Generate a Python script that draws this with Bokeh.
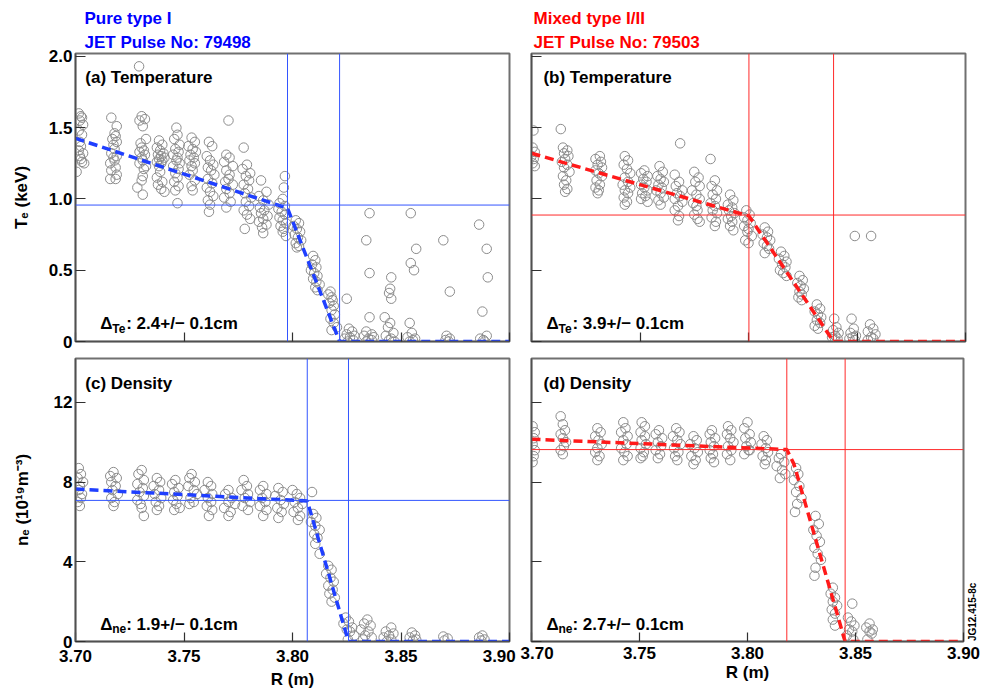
import math

from bokeh.embed import file_html
from bokeh.layouts import column, row
from bokeh.models import (CustomLabelingPolicy, FixedTicker, Label, LinearAxis,
                          Range1d, Span, Title)
from bokeh.plotting import figure
from bokeh.resources import INLINE

FONT = "Liberation Sans"
GRAY = "#8c8c8c"
BLUE_TXT = "#0000ff"
RED_TXT = "#ff0000"
BLUE_LINE = "#3355ff"
RED_LINE = "#ff2a2a"
BLUE_FIT = "#1f3fff"
RED_FIT = "#ff1a1a"

# ---------------------------------------------------------------- axes
R_RANGE = (3.70, 3.90)
R_TICKS = [3.70, 3.75, 3.80, 3.85, 3.90]
R_TICK_TEXT = ["3.70", "3.75", "3.80", "3.85", "3.90"]
TE_RANGE = (0.0, 2.02)
TE_TICKS = [0.0, 0.5, 1.0, 1.5, 2.0]
TE_TICK_TEXT = ["0", "0.5", "1.0", "1.5", "2.0"]
NE_RANGE = (0.0, 14.2)
NE_TICKS = [0, 4, 8, 12]
NE_TICK_TEXT = ["0", "4", "8", "12"]

# ---------------------------------------------------------------- pedestal fits
# pedestal position R (m), width (cm), pedestal height
PED_POS = {"a": 3.7977, "b": 3.8002, "c": 3.8068, "d": 3.8182}
PED_WIDTH_CM = {"a": 2.4, "b": 3.9, "c": 1.9, "d": 2.7}
PED_HEIGHT = {"a": 0.957, "b": 0.887, "c": 7.08, "d": 9.63}

FIT_A_R = [3.700, 3.7977, 3.8217, 3.900]
FIT_A_V = [1.425, 0.935, 0.0, 0.0]
FIT_B_R = [3.700, 3.8002, 3.8392, 3.900]
FIT_B_V = [1.32, 0.88, 0.0, 0.0]
FIT_C_R = [3.700, 3.8068, 3.8258, 3.900]
FIT_C_V = [7.65, 7.05, 0.0, 0.0]
FIT_D_R = [3.700, 3.8182, 3.8215, 3.8452, 3.900]
FIT_D_V = [10.15, 9.63, 8.9, 0.0, 0.0]

# ---------------------------------------------------------------- measured profiles (R [m], value)
TE_PURE = [
    (3.7015, 1.60), (3.7025, 1.58), (3.7030, 1.57), (3.7020, 1.55), (3.7035, 1.52), (3.7015, 1.48),
    (3.7030, 1.45), (3.7020, 1.40), (3.7025, 1.37), (3.7015, 1.34), (3.7035, 1.32), (3.7020, 1.30),
    (3.7025, 1.28), (3.7030, 1.26), (3.7040, 1.25), (3.7005, 1.19),
    (3.7165, 1.57), (3.7190, 1.51), (3.7180, 1.46), (3.7185, 1.44), (3.7170, 1.42), (3.7190, 1.40),
    (3.7175, 1.38), (3.7180, 1.35), (3.7165, 1.32), (3.7190, 1.30), (3.7175, 1.29), (3.7180, 1.27),
    (3.7160, 1.25), (3.7185, 1.22), (3.7165, 1.20), (3.7190, 1.17), (3.7160, 1.14), (3.7185, 1.14),
    (3.7293, 1.93), (3.7305, 1.58), (3.7320, 1.56), (3.7295, 1.55), (3.7310, 1.51), (3.7325, 1.42),
    (3.7300, 1.39), (3.7305, 1.36), (3.7315, 1.34), (3.7295, 1.33), (3.7320, 1.31), (3.7305, 1.29),
    (3.7310, 1.27), (3.7295, 1.25), (3.7325, 1.23), (3.7315, 1.21), (3.7310, 1.16), (3.7305, 1.13),
    (3.7285, 1.08), (3.7310, 1.03),
    (3.7385, 1.41), (3.7400, 1.38), (3.7375, 1.36), (3.7390, 1.34), (3.7405, 1.32), (3.7380, 1.31),
    (3.7395, 1.30), (3.7410, 1.29), (3.7385, 1.28), (3.7400, 1.27), (3.7375, 1.26), (3.7395, 1.25),
    (3.7385, 1.23), (3.7390, 1.19), (3.7375, 1.15), (3.7400, 1.12), (3.7380, 1.10), (3.7395, 1.07),
    (3.7410, 1.05),
    (3.7465, 1.50), (3.7470, 1.45), (3.7455, 1.42), (3.7480, 1.38), (3.7460, 1.35), (3.7475, 1.33),
    (3.7450, 1.31), (3.7470, 1.29), (3.7465, 1.27), (3.7480, 1.25), (3.7450, 1.23), (3.7475, 1.21),
    (3.7460, 1.18), (3.7470, 1.15), (3.7455, 1.12), (3.7475, 1.09), (3.7460, 1.06), (3.7470, 0.97),
    (3.7535, 1.43), (3.7550, 1.40), (3.7520, 1.37), (3.7540, 1.35), (3.7555, 1.33), (3.7530, 1.31),
    (3.7545, 1.29), (3.7525, 1.27), (3.7550, 1.25), (3.7535, 1.23), (3.7540, 1.20), (3.7525, 1.17),
    (3.7550, 1.13), (3.7535, 1.09), (3.7540, 1.06),
    (3.7615, 1.40), (3.7630, 1.37), (3.7605, 1.30), (3.7620, 1.27), (3.7635, 1.24), (3.7610, 1.22),
    (3.7625, 1.20), (3.7640, 1.17), (3.7610, 1.14), (3.7630, 1.11), (3.7605, 1.08), (3.7620, 1.05),
    (3.7635, 1.02), (3.7610, 0.99), (3.7620, 0.96), (3.7615, 0.91),
    (3.7705, 1.55), (3.7695, 1.31), (3.7710, 1.29), (3.7685, 1.26), (3.7725, 1.23), (3.7695, 1.20),
    (3.7710, 1.17), (3.7705, 1.14), (3.7690, 1.12), (3.7725, 1.10), (3.7695, 1.07), (3.7710, 1.04),
    (3.7685, 1.01), (3.7715, 0.98), (3.7695, 0.94),
    (3.7775, 1.36), (3.7790, 1.24), (3.7770, 1.21), (3.7805, 1.18), (3.7785, 1.16), (3.7800, 1.13),
    (3.7775, 1.10), (3.7795, 1.07), (3.7780, 1.04), (3.7810, 1.01), (3.7785, 0.98), (3.7800, 0.95),
    (3.7775, 0.92), (3.7790, 0.89), (3.7805, 0.86), (3.7780, 0.79),
    (3.7855, 1.13), (3.7880, 1.05), (3.7845, 1.02), (3.7865, 0.99), (3.7890, 0.96), (3.7850, 0.94),
    (3.7870, 0.92), (3.7855, 0.90), (3.7885, 0.88), (3.7865, 0.86), (3.7845, 0.84), (3.7880, 0.82),
    (3.7860, 0.80), (3.7865, 0.76),
    (3.7965, 1.16), (3.7960, 1.08), (3.7955, 1.00), (3.7940, 0.97), (3.7965, 0.95), (3.7935, 0.93),
    (3.7950, 0.91), (3.7965, 0.89), (3.7940, 0.87), (3.7955, 0.85), (3.7970, 0.83), (3.7945, 0.81),
    (3.7960, 0.79), (3.7955, 0.77), (3.7970, 0.74),
    (3.8015, 0.85), (3.8030, 0.83), (3.8005, 0.81), (3.8020, 0.79), (3.8035, 0.77), (3.8010, 0.75),
    (3.8025, 0.73), (3.8040, 0.71), (3.8015, 0.69), (3.8030, 0.67), (3.8020, 0.66),
    (3.8095, 0.60), (3.8105, 0.57), (3.8090, 0.54), (3.8110, 0.52), (3.8085, 0.50), (3.8100, 0.48),
    (3.8115, 0.46), (3.8095, 0.44), (3.8110, 0.42), (3.8125, 0.40), (3.8105, 0.38), (3.8115, 0.36),
    (3.8175, 0.35), (3.8165, 0.33), (3.8180, 0.31), (3.8185, 0.29), (3.8170, 0.27), (3.8190, 0.25),
    (3.8180, 0.22), (3.8195, 0.19), (3.8175, 0.16), (3.8190, 0.13), (3.8205, 0.10), (3.8180, 0.08),
    (3.8250, 0.30), (3.8260, 0.09), (3.8275, 0.07), (3.8250, 0.05), (3.8285, 0.04), (3.8265, 0.03),
    (3.8240, 0.02), (3.8280, 0.01), (3.8255, 0.00),
    (3.8355, 0.90), (3.8340, 0.71), (3.8355, 0.48), (3.8355, 0.17), (3.8340, 0.07), (3.8365, 0.05),
    (3.8330, 0.04), (3.8375, 0.03), (3.8350, 0.02), (3.8365, 0.01), (3.8340, 0.00),
    (3.8455, 0.45), (3.8450, 0.37), (3.8445, 0.34), (3.8455, 0.30), (3.8425, 0.17), (3.8450, 0.13),
    (3.8440, 0.10), (3.8465, 0.06), (3.8430, 0.04), (3.8455, 0.02), (3.8445, 0.01), (3.8470, 0.00),
    (3.8545, 0.90), (3.8570, 0.65), (3.8545, 0.55), (3.8560, 0.50), (3.8540, 0.13), (3.8550, 0.06),
    (3.8530, 0.03), (3.8565, 0.02), (3.8555, 0.01), (3.8540, 0.00),
    (3.8695, 0.71), (3.8725, 0.35), (3.8710, 0.04), (3.8725, 0.02), (3.8705, 0.01), (3.8720, 0.00),
    (3.8860, 0.82), (3.8895, 0.65), (3.8900, 0.45), (3.8875, 0.21), (3.8895, 0.04), (3.8865, 0.02),
    (3.8880, 0.01), (3.8885, 0.00),
]

TE_MIXED = [
    (3.7009, 1.48), (3.7005, 1.36), (3.7015, 1.33), (3.7000, 1.30), (3.7010, 1.28), (3.7005, 1.25),
    (3.7015, 1.23),
    (3.7135, 1.49), (3.7145, 1.36), (3.7165, 1.34), (3.7150, 1.32), (3.7170, 1.30), (3.7155, 1.28),
    (3.7140, 1.26), (3.7165, 1.24), (3.7150, 1.22), (3.7175, 1.19), (3.7145, 1.16), (3.7160, 1.13),
    (3.7150, 1.10), (3.7165, 1.07), (3.7155, 1.05),
    (3.7315, 1.30), (3.7295, 1.28), (3.7320, 1.26), (3.7305, 1.24), (3.7325, 1.22), (3.7295, 1.20),
    (3.7310, 1.18), (3.7325, 1.16), (3.7300, 1.13), (3.7315, 1.10), (3.7295, 1.08), (3.7310, 1.06),
    (3.7305, 1.04),
    (3.7430, 1.30), (3.7445, 1.27), (3.7425, 1.24), (3.7440, 1.21), (3.7455, 1.18), (3.7430, 1.15),
    (3.7445, 1.12), (3.7420, 1.10), (3.7455, 1.08), (3.7430, 1.06), (3.7445, 1.04), (3.7425, 1.01),
    (3.7440, 0.98), (3.7430, 0.96),
    (3.7520, 1.20), (3.7505, 1.18), (3.7535, 1.16), (3.7515, 1.14), (3.7530, 1.12), (3.7505, 1.10),
    (3.7520, 1.08), (3.7535, 1.06), (3.7510, 1.04), (3.7525, 1.02), (3.7505, 1.00), (3.7535, 0.98),
    (3.7590, 1.23), (3.7605, 1.19), (3.7580, 1.16), (3.7595, 1.14), (3.7610, 1.12), (3.7585, 1.10),
    (3.7600, 1.08), (3.7575, 1.06), (3.7595, 1.04), (3.7610, 1.01), (3.7585, 0.99), (3.7595, 0.96),
    (3.7685, 1.39), (3.7660, 1.17), (3.7680, 1.12), (3.7665, 1.09), (3.7695, 1.06), (3.7670, 1.04),
    (3.7685, 1.02), (3.7660, 1.00), (3.7695, 0.98), (3.7675, 0.95), (3.7660, 0.92), (3.7680, 0.88),
    (3.7675, 0.85),
    (3.7750, 1.19), (3.7770, 1.15), (3.7755, 1.12), (3.7775, 1.09), (3.7740, 1.06), (3.7760, 1.03),
    (3.7775, 1.00), (3.7745, 0.97), (3.7760, 0.95), (3.7765, 0.92), (3.7750, 0.89), (3.7765, 0.86),
    (3.7775, 0.84),
    (3.7825, 1.28), (3.7845, 1.13), (3.7830, 1.09), (3.7855, 1.06), (3.7835, 1.03), (3.7850, 1.00),
    (3.7825, 0.97), (3.7845, 0.95), (3.7835, 0.92), (3.7855, 0.90), (3.7830, 0.87), (3.7850, 0.84),
    (3.7845, 0.81),
    (3.7915, 1.03), (3.7930, 0.99), (3.7905, 0.96), (3.7925, 0.94), (3.7910, 0.92), (3.7935, 0.90),
    (3.7920, 0.88), (3.7905, 0.86), (3.7925, 0.84), (3.7915, 0.81), (3.7930, 0.78),
    (3.7990, 0.92), (3.8005, 0.89), (3.7980, 0.87), (3.7995, 0.85), (3.8010, 0.83), (3.7980, 0.81),
    (3.8000, 0.79), (3.7995, 0.77), (3.8015, 0.74), (3.7985, 0.71), (3.8000, 0.69),
    (3.8075, 0.80), (3.8090, 0.77), (3.8065, 0.75), (3.8085, 0.73), (3.8100, 0.71), (3.8070, 0.69),
    (3.8085, 0.67), (3.8095, 0.65), (3.8075, 0.62),
    (3.8150, 0.63), (3.8165, 0.60), (3.8140, 0.58), (3.8175, 0.56), (3.8155, 0.54), (3.8170, 0.52),
    (3.8145, 0.50), (3.8160, 0.48), (3.8175, 0.46),
    (3.8235, 0.46), (3.8250, 0.43), (3.8225, 0.41), (3.8240, 0.39), (3.8255, 0.37), (3.8235, 0.35),
    (3.8245, 0.33), (3.8230, 0.31), (3.8245, 0.29),
    (3.8315, 0.26), (3.8330, 0.23), (3.8305, 0.21), (3.8320, 0.19), (3.8335, 0.17), (3.8315, 0.15),
    (3.8330, 0.13), (3.8305, 0.11), (3.8320, 0.09),
    (3.8395, 0.16), (3.8405, 0.10), (3.8390, 0.08), (3.8415, 0.06), (3.8400, 0.04), (3.8385, 0.03),
    (3.8410, 0.02), (3.8400, 0.01),
    (3.8490, 0.74), (3.8475, 0.16), (3.8485, 0.09), (3.8470, 0.06), (3.8495, 0.04), (3.8480, 0.03),
    (3.8465, 0.02), (3.8490, 0.01),
    (3.8565, 0.74), (3.8560, 0.12), (3.8575, 0.09), (3.8550, 0.07), (3.8585, 0.05), (3.8565, 0.03),
    (3.8575, 0.02), (3.8550, 0.01),
]

NE_PURE = [
    (3.7015, 8.7), (3.7025, 8.4), (3.7010, 8.2), (3.7035, 8.0), (3.7020, 7.8), (3.7015, 7.6),
    (3.7030, 7.4), (3.7025, 7.2), (3.7010, 7.0), (3.7020, 6.8),
    (3.7175, 8.5), (3.7160, 8.3), (3.7190, 8.2), (3.7165, 8.0), (3.7185, 7.8), (3.7170, 7.6),
    (3.7195, 7.4), (3.7165, 7.2), (3.7180, 7.0), (3.7175, 6.8),
    (3.7305, 8.6), (3.7290, 8.4), (3.7315, 8.1), (3.7285, 7.9), (3.7310, 7.7), (3.7295, 7.5),
    (3.7315, 7.3), (3.7285, 7.1), (3.7300, 6.9), (3.7305, 6.7), (3.7315, 6.3),
    (3.7375, 8.2), (3.7390, 8.0), (3.7360, 7.8), (3.7385, 7.6), (3.7365, 7.4), (3.7395, 7.2),
    (3.7370, 7.0), (3.7385, 6.8), (3.7375, 6.6),
    (3.7460, 8.1), (3.7445, 7.9), (3.7475, 7.7), (3.7455, 7.5), (3.7470, 7.3), (3.7450, 7.1),
    (3.7465, 6.9), (3.7480, 6.7), (3.7455, 6.6),
    (3.7535, 8.4), (3.7525, 8.2), (3.7550, 8.0), (3.7520, 7.8), (3.7545, 7.6), (3.7560, 7.4),
    (3.7530, 7.2), (3.7545, 7.0), (3.7525, 6.9),
    (3.7610, 8.0), (3.7625, 7.8), (3.7595, 7.6), (3.7630, 7.4), (3.7610, 7.2), (3.7625, 7.0),
    (3.7605, 6.8), (3.7630, 6.6), (3.7615, 6.3),
    (3.7705, 7.6), (3.7690, 7.4), (3.7720, 7.2), (3.7705, 7.0), (3.7735, 6.9), (3.7685, 6.7),
    (3.7715, 6.5), (3.7705, 6.3),
    (3.7775, 8.1), (3.7790, 7.8), (3.7765, 7.6), (3.7795, 7.4), (3.7780, 7.2), (3.7805, 7.0),
    (3.7770, 6.8), (3.7795, 6.6),
    (3.7865, 7.8), (3.7850, 7.6), (3.7880, 7.4), (3.7860, 7.2), (3.7875, 7.0), (3.7850, 6.8),
    (3.7880, 6.6), (3.7865, 6.3),
    (3.7935, 7.7), (3.7955, 7.5), (3.7920, 7.3), (3.7945, 7.1), (3.7960, 6.9), (3.7930, 6.7),
    (3.7950, 6.5), (3.7935, 6.2),
    (3.8000, 7.6), (3.8020, 7.4), (3.8035, 7.2), (3.8010, 7.0), (3.8045, 6.9), (3.8025, 6.7),
    (3.8005, 6.5), (3.8035, 6.3), (3.8025, 6.1),
    (3.8090, 7.5), (3.8095, 6.4), (3.8110, 6.2), (3.8085, 6.0), (3.8105, 5.8), (3.8125, 5.6),
    (3.8100, 5.4), (3.8115, 5.2), (3.8105, 4.9), (3.8125, 4.4),
    (3.8165, 3.8), (3.8180, 3.6), (3.8155, 3.4), (3.8175, 3.2), (3.8190, 3.0), (3.8165, 2.8),
    (3.8185, 2.6), (3.8170, 2.4), (3.8195, 2.2), (3.8180, 2.0),
    (3.8245, 1.2), (3.8260, 1.0), (3.8235, 0.9), (3.8275, 0.7), (3.8250, 0.6), (3.8265, 0.5),
    (3.8285, 0.3), (3.8255, 0.1),
    (3.8345, 1.1), (3.8330, 0.9), (3.8360, 0.8), (3.8315, 0.6), (3.8350, 0.5), (3.8335, 0.3),
    (3.8365, 0.2), (3.8325, 0.1),
    (3.8455, 0.7), (3.8430, 0.5), (3.8465, 0.4), (3.8445, 0.3), (3.8420, 0.2), (3.8455, 0.1),
    (3.8435, 0.0),
    (3.8550, 0.45), (3.8565, 0.3), (3.8540, 0.2), (3.8570, 0.1), (3.8555, 0.05),
    (3.8695, 0.25), (3.8715, 0.15), (3.8700, 0.05),
    (3.8875, 0.3), (3.8860, 0.2), (3.8885, 0.1), (3.8870, 0.05),
]

NE_MIXED = [
    (3.7005, 10.8), (3.7015, 10.5), (3.7010, 10.2), (3.7005, 9.9), (3.7015, 9.6), (3.7010, 9.3),
    (3.7005, 9.0),
    (3.7135, 11.3), (3.7145, 10.9), (3.7155, 10.6), (3.7135, 10.4), (3.7145, 10.2), (3.7160, 10.0),
    (3.7150, 9.8), (3.7135, 9.6), (3.7145, 9.4),
    (3.7305, 10.7), (3.7320, 10.5), (3.7295, 10.3), (3.7310, 10.1), (3.7325, 9.9), (3.7305, 9.7),
    (3.7295, 9.5), (3.7315, 9.3), (3.7305, 9.1),
    (3.7425, 11.0), (3.7435, 10.7), (3.7415, 10.5), (3.7445, 10.3), (3.7425, 10.1), (3.7440, 9.9),
    (3.7415, 9.7), (3.7430, 9.5), (3.7445, 9.3), (3.7425, 9.1),
    (3.7510, 11.0), (3.7525, 10.8), (3.7505, 10.5), (3.7525, 10.3), (3.7510, 10.1), (3.7530, 9.9),
    (3.7505, 9.7), (3.7520, 9.5), (3.7515, 9.3), (3.7505, 9.2),
    (3.7590, 10.6), (3.7575, 10.4), (3.7605, 10.2), (3.7585, 10.0), (3.7600, 9.8), (3.7575, 9.6),
    (3.7595, 9.4), (3.7585, 9.2),
    (3.7670, 10.7), (3.7685, 10.5), (3.7655, 10.3), (3.7675, 10.1), (3.7690, 9.9), (3.7660, 9.7),
    (3.7680, 9.5), (3.7665, 9.3), (3.7675, 9.1),
    (3.7750, 10.3), (3.7765, 10.1), (3.7735, 9.9), (3.7755, 9.7), (3.7770, 9.5), (3.7740, 9.3),
    (3.7760, 9.1), (3.7750, 8.9),
    (3.7835, 10.6), (3.7825, 10.4), (3.7850, 10.2), (3.7830, 10.0), (3.7845, 9.8), (3.7825, 9.6),
    (3.7840, 9.4), (3.7830, 9.2), (3.7845, 9.0),
    (3.7910, 10.8), (3.7925, 10.6), (3.7905, 10.4), (3.7920, 10.2), (3.7935, 10.0), (3.7910, 9.8),
    (3.7925, 9.6), (3.7905, 9.4), (3.7920, 9.1),
    (3.8000, 11.0), (3.7985, 10.7), (3.8010, 10.4), (3.7990, 10.2), (3.8015, 10.0), (3.7995, 9.8),
    (3.8010, 9.6), (3.7985, 9.4), (3.8005, 9.6),
    (3.8075, 10.3), (3.8090, 10.1), (3.8065, 9.9), (3.8085, 9.7), (3.8095, 9.5), (3.8070, 9.3),
    (3.8085, 9.1), (3.8080, 8.9),
    (3.8155, 9.4), (3.8145, 9.2), (3.8170, 9.0), (3.8135, 8.8), (3.8160, 8.6), (3.8175, 8.4),
    (3.8150, 8.2),
    (3.8225, 8.7), (3.8235, 8.4), (3.8215, 8.1), (3.8240, 7.8), (3.8225, 7.5), (3.8250, 7.2),
    (3.8230, 6.9), (3.8220, 6.5),
    (3.8315, 6.3), (3.8330, 5.9), (3.8305, 5.6), (3.8320, 5.3), (3.8335, 5.0), (3.8310, 4.7),
    (3.8325, 4.4), (3.8340, 4.1), (3.8315, 3.7), (3.8310, 3.3),
    (3.8395, 2.7), (3.8385, 2.4), (3.8405, 2.2), (3.8395, 2.0), (3.8415, 1.8), (3.8390, 1.6),
    (3.8405, 1.4), (3.8395, 1.1), (3.8405, 0.8),
    (3.8485, 1.9), (3.8465, 1.2), (3.8480, 1.0), (3.8495, 0.8), (3.8470, 0.6), (3.8485, 0.5),
    (3.8460, 0.3), (3.8490, 0.1),
    (3.8565, 0.9), (3.8550, 0.7), (3.8580, 0.6), (3.8565, 0.5), (3.8575, 0.4), (3.8555, 0.1),
]

# figure identifier printed along the right edge of panel (d), starting at the bottom
FIG_ID = "JG12.415-8c"
FIG_ID_AT = 0.02

NBSP = "\u00a0"


def style_axis(ax, tick_in, labels_visible):
    ax.major_tick_in = tick_in
    ax.major_tick_out = 0
    ax.minor_tick_in = 0
    ax.minor_tick_out = 0
    ax.axis_line_color = "#505050"
    ax.axis_line_width = 1.5
    ax.major_tick_line_color = "#303030"
    ax.major_tick_line_width = 1.2
    ax.major_label_text_font = FONT
    ax.major_label_text_font_style = "bold"
    ax.major_label_text_color = "black"
    if labels_visible:
        ax.major_label_text_font_size = "17px"
    else:
        ax.major_label_text_font_size = "1px"
        ax.major_label_policy = CustomLabelingPolicy(code="return []")
    ax.axis_label_text_font = FONT
    ax.axis_label_text_font_style = "bold"
    ax.axis_label_text_font_size = "17px"
    ax.axis_label_text_color = "black"


def panel(key, pts, fit_r, fit_v, y_range, y_ticks, y_text, fit_color, span_color,
          name, delta_sub, delta_anchor, name_anchor, width, height, borders,
          y_label=None, x_label=None, x_text=None, header=None, header_color=None,
          header_offset=0):
    kw = dict(width=width, height=height,
              x_range=Range1d(*R_RANGE), y_range=Range1d(*y_range),
              output_backend="svg", toolbar_location=None, tools="",
              min_border_left=borders[0], min_border_right=borders[1],
              min_border_top=borders[2], min_border_bottom=borders[3])
    if header is None:
        kw["title_location"] = None
    p = figure(**kw)
    p.grid.visible = False
    p.outline_line_color = "#707070"
    p.outline_line_width = 2
    p.background_fill_color = "white"
    p.border_fill_color = "white"

    xa, ya = p.xaxis[0], p.yaxis[0]
    style_axis(xa, 9, x_text is not None)
    style_axis(ya, 10, y_label is not None)
    xa.ticker = FixedTicker(ticks=R_TICKS, minor_ticks=[])
    ya.ticker = FixedTicker(ticks=y_ticks, minor_ticks=[])
    if x_text is not None:
        xa.major_label_overrides = dict(zip(R_TICKS, x_text))
        xa.major_label_standoff = 5
        xa.axis_label = x_label
        xa.axis_label_standoff = 1
    else:
        xa.major_label_standoff = 0
    if y_label is not None:
        ya.major_label_overrides = dict(zip(y_ticks, y_text))
        ya.major_label_standoff = 3
        ya.axis_label = y_label
        ya.axis_label_standoff = 15 if key == "a" else 19
    else:
        ya.major_label_standoff = 0

    if header is not None:
        # the figure's own title sits furthest from the frame
        p.title.text = header[0]
        p.title.align = "left"
        p.title.offset = header_offset
        p.title.text_color = header_color
        p.title.text_font = FONT
        p.title.text_font_style = "bold"
        p.title.text_font_size = "17px"
        p.title.standoff = 2
        p.add_layout(Title(text=header[1], align="left", offset=header_offset,
                           text_color=header_color, text_font=FONT,
                           text_font_style="bold", text_font_size="17px",
                           standoff=4), "above")

    # pedestal top / foot markers
    r0 = PED_POS[key]
    r1 = r0 + PED_WIDTH_CM[key] / 100.0
    for loc in (r0, r1):
        p.add_layout(Span(location=loc, dimension="height", line_color=span_color,
                          line_width=1))
    p.add_layout(Span(location=PED_HEIGHT[key], dimension="width", line_color=span_color,
                      line_width=1))

    rs = [q[0] for q in pts]
    vs = [q[1] for q in pts]
    p.scatter(rs, vs, marker="circle", size=9.5, fill_color=None,
              line_color=GRAY, line_width=1)
    p.line(fit_r, fit_v, line_color=fit_color, line_width=3.5, line_dash="9 5")

    common = dict(text_font=FONT, text_font_style="bold", text_color="black",
                  text_baseline="alphabetic", text_align="left")
    p.add_layout(Label(x=name_anchor[0], y=name_anchor[1], text=name,
                       text_font_size="17px", **common))
    dx, dy = delta_anchor
    p.add_layout(Label(x=dx, y=dy, text="\u0394", text_font_size="17px", **common))
    p.add_layout(Label(x=dx, y=dy, x_offset=12, y_offset=-5, text=delta_sub,
                       text_font_size="12px", **common))
    p.add_layout(Label(x=dx, y=dy, x_offset=26,
                       text=": %.1f+/\u2212  0.1cm" % PED_WIDTH_CM[key],
                       text_font_size="17px", **common))
    return p


FIG_W_LEFT, FIG_W_RIGHT = 520, 466
FIG_H_TOP, FIG_H_BOTTOM = 353, 338

pa = panel("a", TE_PURE, FIT_A_R, FIT_A_V, TE_RANGE, TE_TICKS, TE_TICK_TEXT,
           BLUE_FIT, BLUE_LINE, "(a) Temperature", "Te", (3.7114, 0.124), (3.7045, 1.852),
           FIG_W_LEFT, FIG_H_TOP, (75, 11, 53, 12), y_label="T\u2091 (keV)",
           header=("Pure type I", "JET Pulse No: 79498"), header_color=BLUE_TXT,
           header_offset=9)
pb = panel("b", TE_MIXED, FIT_B_R, FIT_B_V, TE_RANGE, TE_TICKS, TE_TICK_TEXT,
           RED_FIT, RED_LINE, "(b) Temperature", "Te", (3.7069, 0.126), (3.7055, 1.852),
           FIG_W_RIGHT, FIG_H_TOP, (11, 21, 53, 12),
           header=("Mixed type I/II", "JET Pulse No: 79503"), header_color=RED_TXT,
           header_offset=2)

# last label of panel (c) kept a little clear of the gap between the panels
x_text_c = R_TICK_TEXT[:-1] + [R_TICK_TEXT[-1] + NBSP]
x_text_d = list(R_TICK_TEXT)

pc = panel("c", NE_PURE, FIT_C_R, FIT_C_V, NE_RANGE, NE_TICKS, NE_TICK_TEXT,
           BLUE_FIT, BLUE_LINE, "(c) Density", "ne", (3.7114, 0.87), (3.7045, 12.97),
           FIG_W_LEFT, FIG_H_BOTTOM, (75, 11, 5, 45),
           y_label="n\u2091 (10\u00b9\u2079m\u207b\u00b3)", x_label="R (m)", x_text=x_text_c)
pd_ = panel("d", NE_MIXED, FIT_D_R, FIT_D_V, NE_RANGE, NE_TICKS, NE_TICK_TEXT,
            RED_FIT, RED_LINE, "(d) Density", "ne", (3.7069, 0.87), (3.7055, 12.97),
            FIG_W_RIGHT, FIG_H_BOTTOM, (11, 21, 5, 45),
            x_label="R (m)", x_text=x_text_d)

# vertical identifier in the right margin of panel (d)
id_axis = LinearAxis(ticker=FixedTicker(ticks=[FIG_ID_AT], minor_ticks=[]),
                     major_label_overrides={FIG_ID_AT: FIG_ID},
                     major_label_orientation=math.pi / 2,
                     major_label_standoff=3,
                     major_label_text_font=FONT, major_label_text_font_style="bold",
                     major_label_text_font_size="10px", major_label_text_color="black",
                     axis_line_color=None, major_tick_line_color=None,
                     minor_tick_line_color=None)
pd_.add_layout(id_axis, "right")

layout = column(row(pa, pb), row(pc, pd_))

with open("out.html", "w") as f:
    f.write(file_html(layout, INLINE, "Pedestal profiles"))
